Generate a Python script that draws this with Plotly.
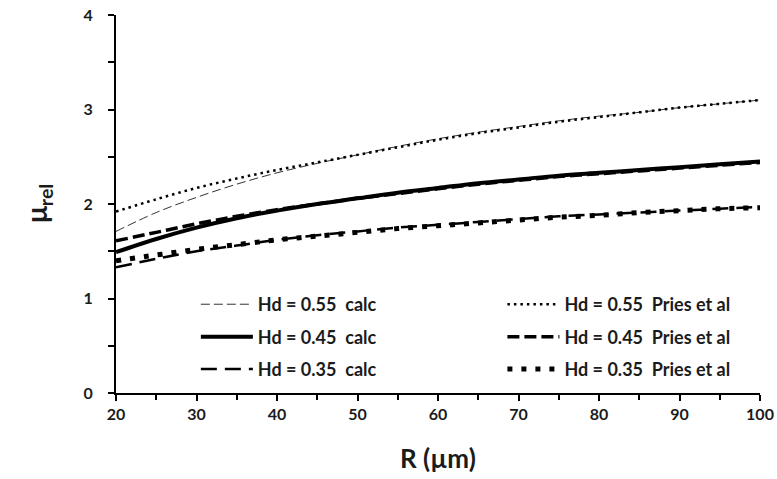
import plotly.graph_objects as go

R = [20, 25, 30, 35, 40, 45, 50, 55, 60, 65, 70, 75, 80, 85, 90, 95, 100]

calc_055 = [1.71, 1.91, 2.07, 2.21, 2.33, 2.43, 2.52, 2.61, 2.69, 2.76, 2.82, 2.88, 2.93, 2.97, 3.02, 3.06, 3.10]
pries_055 = [1.92, 2.05, 2.17, 2.27, 2.36, 2.44, 2.52, 2.60, 2.68, 2.75, 2.81, 2.87, 2.92, 2.97, 3.02, 3.06, 3.10]
calc_045 = [1.49, 1.63, 1.75, 1.85, 1.93, 2.00, 2.06, 2.12, 2.17, 2.22, 2.26, 2.30, 2.33, 2.36, 2.39, 2.42, 2.45]
pries_045 = [1.61, 1.70, 1.79, 1.87, 1.94, 2.00, 2.06, 2.11, 2.16, 2.21, 2.25, 2.29, 2.32, 2.35, 2.38, 2.41, 2.44]
calc_035 = [1.33, 1.42, 1.50, 1.56, 1.62, 1.67, 1.71, 1.75, 1.78, 1.81, 1.84, 1.87, 1.89, 1.91, 1.93, 1.95, 1.97]
pries_035 = [1.40, 1.46, 1.52, 1.57, 1.62, 1.66, 1.70, 1.74, 1.77, 1.80, 1.83, 1.86, 1.88, 1.91, 1.93, 1.95, 1.96]

names = ["Hd = 0.55  calc", "Hd = 0.45  calc", "Hd = 0.35  calc",
         "Hd = 0.55  Pries et al", "Hd = 0.45  Pries et al", "Hd = 0.35  Pries et al"]

x_title = "R (µm)"
y_title = "μ<sub>rel</sub>"

FONT = "Lato, 'Open Sans', Arial, sans-serif"
INK = "#1b1b1b"

fig = go.Figure()

def add(y, name, width, dash, legend, color="black"):
    fig.add_trace(go.Scatter(x=R, y=y, mode="lines", name=name, legendgroup=name,
                             line=dict(color=color, width=width, dash=dash, shape="spline"),
                             legend=legend))

add(calc_055, names[0], 1.0, "9px,4px", "legend", "#333333")
add(calc_045, names[1], 4.0, "solid", "legend")
add(calc_035, names[2], 2.5, "16px,8px", "legend")
add(pries_055, names[3], 2.5, "2.5px,4px", "legend2")
add(pries_045, names[4], 3.5, "12px,5px", "legend2")
add(pries_035, names[5], 5.0, "5px,9px", "legend2")

legend_style = dict(font=dict(family=FONT, size=18, color=INK, weight="bold"),
                    bgcolor="rgba(0,0,0,0)", itemwidth=52, tracegroupgap=6,
                    yanchor="top", xanchor="left", y=0.283, borderwidth=0)

fig.update_layout(
    width=777, height=479,
    margin=dict(l=116, r=17, t=15, b=86),
    paper_bgcolor="white", plot_bgcolor="white",
    font=dict(family=FONT, color=INK),
    showlegend=True,
    legend=dict(x=0.124, **legend_style),
    legend2=dict(x=0.6, **legend_style),
    xaxis=dict(range=[20, 100], dtick=10, tick0=20, showgrid=False, zeroline=False,
               automargin=False,
               showline=True, linecolor="black", linewidth=2,
               ticks="outside", ticklen=6, tickwidth=2, tickcolor="black",
               ticklabelstandoff=0,
               minor=dict(dtick=5, ticks="outside", ticklen=5, tickwidth=2, tickcolor="black"),
               tickfont=dict(family=FONT, size=16, color=INK, weight="bold")),
    yaxis=dict(range=[0, 4], dtick=1, showgrid=False, zeroline=False,
               automargin=False,
               showline=True, linecolor="black", linewidth=2,
               ticks="outside", ticklen=6, tickwidth=2, tickcolor="black",
               ticklabelstandoff=12,
               minor=dict(dtick=0.5, ticks="outside", ticklen=6, tickwidth=2, tickcolor="black"),
               tickfont=dict(family=FONT, size=16, color=INK, weight="bold")),
    annotations=[
        dict(text=x_title, xref="paper", yref="paper", x=0.5, y=-0.172,
             xanchor="center", yanchor="middle", showarrow=False,
             font=dict(family=FONT, size=26, color=INK, weight="bold")),
        dict(text=y_title, xref="paper", yref="paper", x=-0.121, y=0.5,
             xanchor="center", yanchor="middle", showarrow=False, textangle=-90,
             font=dict(family=FONT, size=28, color=INK, weight="bold")),
    ],
)

# remove the browser's default 8px body margin so the figure sits at the page origin
fig.write_html("out.html", config={"displayModeBar": False},
               post_script="document.body.style.margin='0';")
